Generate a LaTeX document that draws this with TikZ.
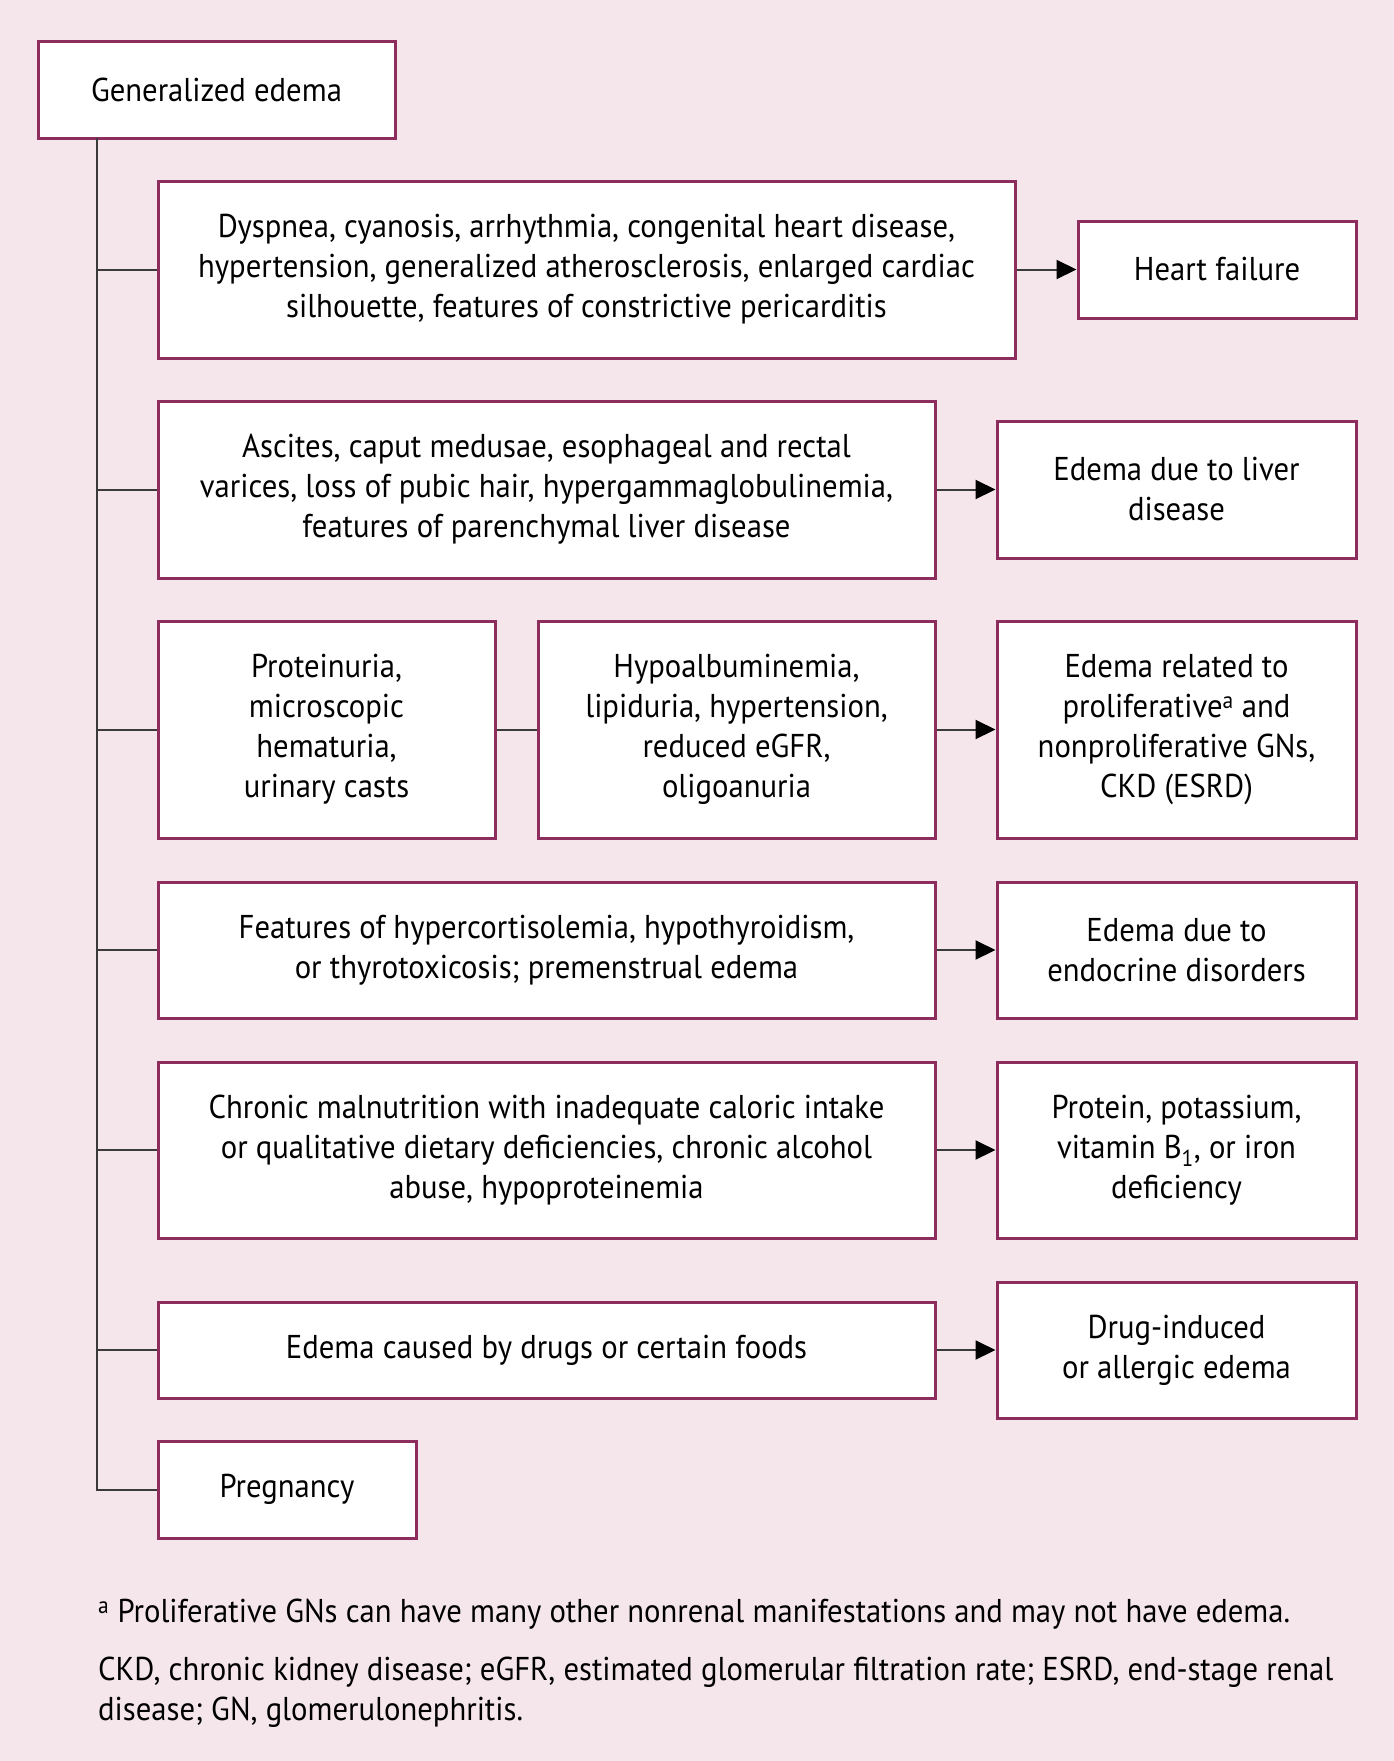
\documentclass[tikz,border=0pt]{standalone}
\usepackage{fontspec}
\setmainfont{PT Sans}[FakeStretch=0.93]
\usetikzlibrary{arrows.meta}
\definecolor{bgpink}{HTML}{F5E6EC}
\definecolor{plum}{HTML}{8C2D5D}
\definecolor{conn}{HTML}{3A3A3A}
\begin{document}
\begin{tikzpicture}[x=1pt,y=-1pt,
  box/.style={draw=plum,line width=3pt,fill=white,inner sep=0pt,align=center,
    font=\fontsize{33}{40}\selectfont},
  link/.style={draw=conn,line width=2pt},
  arr/.style={link,-{Triangle[length=20pt,width=19pt,color=black]}},
  note/.style={anchor=west,inner sep=0pt,align=left,font=\fontsize{33}{40}\selectfont}]
\fill[bgpink] (0,0) rectangle (1394,1761);
\useasboundingbox (0,0) rectangle (1394,1761);
\node[box,minimum width=357pt,minimum height=96pt] (gen) at (216.5,90) {Generalized edema};
\node[box,minimum width=857pt,minimum height=177pt] (b1) at (586.5,269.5)
  {Dyspnea, cyanosis, arrhythmia, congenital heart disease,\\hypertension, generalized atherosclerosis, enlarged cardiac\\silhouette, features of constrictive pericarditis};
\node[box,minimum width=278pt,minimum height=97pt] (hf) at (1217,269.5) {Heart failure};
\node[box,minimum width=777pt,minimum height=177pt] (b2) at (546.5,489.5)
  {Ascites, caput medusae, esophageal and rectal\\varices, loss of pubic hair, hypergammaglobulinemia,\\features of parenchymal liver disease};
\node[box,minimum width=359pt,minimum height=137pt] (liver) at (1176.5,489.5) {Edema due to liver\\disease};
\node[box,minimum width=337pt,minimum height=217pt] (r3a) at (326.5,729.5)
  {Proteinuria,\\microscopic\\hematuria,\\urinary casts};
\node[box,minimum width=397pt,minimum height=217pt] (r3b) at (736.5,729.5)
  {Hypoalbuminemia,\\lipiduria, hypertension,\\reduced eGFR,\\oligoanuria};
\node[box,minimum width=359pt,minimum height=217pt] (gn) at (1176.5,729.5)
  {Edema related to\\proliferative\textsuperscript{a} and\\nonproliferative GNs,\\CKD (ESRD)};
\node[box,minimum width=777pt,minimum height=136pt] (b4) at (546.5,950)
  {Features of hypercortisolemia, hypothyroidism,\\or thyrotoxicosis; premenstrual edema};
\node[box,minimum width=359pt,minimum height=136pt] (endo) at (1176.5,950)
  {Edema due to\\endocrine disorders};
\node[box,minimum width=777pt,minimum height=176pt] (b5) at (546.5,1150)
  {Chronic malnutrition with inadequate caloric intake\\or qualitative dietary deficiencies, chronic alcohol\\abuse, hypoproteinemia};
\node[box,minimum width=359pt,minimum height=176pt] (def) at (1176.5,1150)
  {Protein, potassium,\\vitamin B\textsubscript{1}, or iron\\deficiency};
\node[box,minimum width=777pt,minimum height=96pt] (b6) at (546.5,1350)
  {Edema caused by drugs or certain foods};
\node[box,minimum width=359pt,minimum height=136pt] (drug) at (1176.5,1350)
  {Drug-induced\\or allergic edema};
\node[box,minimum width=258pt,minimum height=97pt] (preg) at (287,1489.5) {Pregnancy};
\coordinate (trunk) at (97,138);
\draw[link] (trunk) |- (preg.west);
\foreach \n in {b1,b2,r3a,b4,b5,b6}{\draw[link] (\n.west -| trunk) -- (\n.west);}
\draw[link] (r3a.east) -- (r3b.west);
\draw[arr] (b1.east) -- (hf.west);
\draw[arr] (b2.east) -- (liver.west);
\draw[arr] (r3b.east) -- (gn.west);
\draw[arr] (b4.east) -- (endo.west);
\draw[arr] (b5.east) -- (def.west);
\draw[arr] (b6.east) -- (drug.west);
\node[note] (fn1) at (98,1614) {\textsuperscript{a} Proliferative GNs can have many other nonrenal manifestations and may not have edema.};
\node[note,anchor=north west] (fn2) at (98,1657) {CKD, chronic kidney disease; eGFR, estimated glomerular filtration rate; ESRD, end-stage renal\\disease; GN, glomerulonephritis.};
\end{tikzpicture}
\end{document}
